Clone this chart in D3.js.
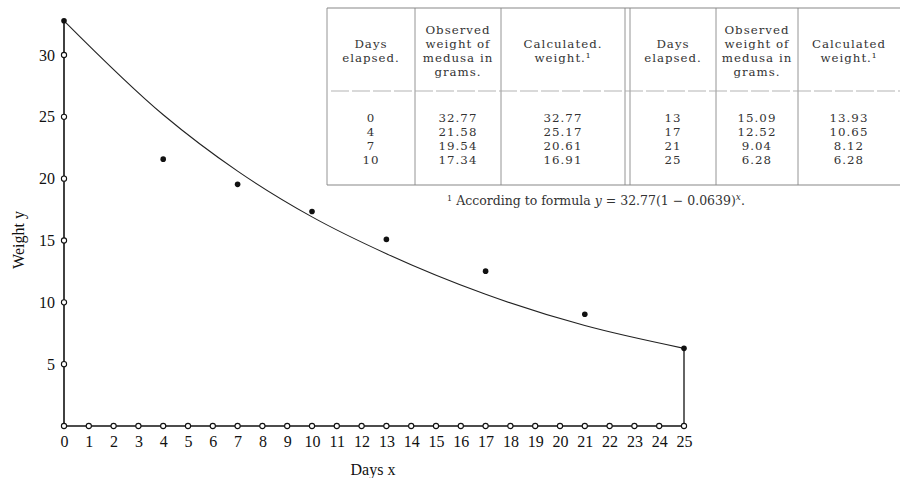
<!DOCTYPE html>
<html>
<head>
<meta charset="utf-8">
<script src="https://cdn.jsdelivr.net/npm/d3@7"></script>
<style>
  html, body { margin: 0; padding: 0; background: #fff; }
  svg { display: block; }
</style>
</head>
<body>
<svg id="chart" width="901" height="478"></svg>
<script>
// ---------------- data ----------------
const days = [0, 4, 7, 10, 13, 17, 21, 25];
const observed = [32.77, 21.58, 19.54, 17.34, 15.09, 12.52, 9.04, 6.28];
const calculated = [32.77, 25.17, 20.61, 16.91, 13.93, 10.65, 8.12, 6.28];
const xTicks = d3.range(0, 26);          // 0 .. 25
const yTicks = [5, 10, 15, 20, 25, 30];
const headerDays = ["Days", "elapsed."];
const headerObserved = ["Observed", "weight of", "medusa in", "grams."];
const headerCalc1 = ["Calculated.", "weight.¹"];
const headerCalc2 = ["Calculated", "weight.¹"];

// ---------------- layout ----------------
const svg = d3.select("#chart");
const X0 = 64, X1 = 684, Y0 = 426, Y30 = 55;
const x = d3.scaleLinear().domain([0, 25]).range([X0, X1]);
const y = d3.scaleLinear().domain([0, 30]).range([Y0, Y30]);
const serif = "'Liberation Serif', 'DejaVu Serif', serif";
const ink = "#111";

// axes lines
svg.append("line").attr("x1", x(0)).attr("x2", x(25)).attr("y1", y(0)).attr("y2", y(0))
  .attr("stroke", ink).attr("stroke-width", 1.6);
svg.append("line").attr("x1", x(0)).attr("x2", x(0)).attr("y1", y(0)).attr("y2", y(observed[0]))
  .attr("stroke", ink).attr("stroke-width", 1.6);
svg.append("line").attr("x1", x(25)).attr("x2", x(25)).attr("y1", y(0)).attr("y2", y(observed[observed.length - 1]))
  .attr("stroke", ink).attr("stroke-width", 1.3);

const xAxis = d3.axisBottom(x).tickValues(xTicks).tickSize(0).tickPadding(10).tickFormat(d3.format("d"));
const gx = svg.append("g").attr("transform", `translate(0,${y(0)})`).call(xAxis);
gx.select(".domain").remove();
gx.selectAll("text").attr("font-family", serif).attr("font-size", 16).attr("fill", ink);

const yAxis = d3.axisLeft(y).tickValues(yTicks).tickSize(0).tickPadding(9).tickFormat(d3.format("d"));
const gy = svg.append("g").attr("transform", `translate(${x(0)},0)`).call(yAxis);
gy.select(".domain").remove();
gy.selectAll("text").attr("font-family", serif).attr("font-size", 16).attr("fill", ink);

// curve of calculated weights
const line = d3.line().x((d, i) => x(days[i])).y(d => y(d)).curve(d3.curveMonotoneX);
svg.append("path").attr("d", line(calculated)).attr("fill", "none")
  .attr("stroke", "#222").attr("stroke-width", 1.1);

svg.selectAll("circle.xt").data(xTicks).enter().append("circle")
  .attr("class", "xt").attr("cx", d => x(d)).attr("cy", y(0)).attr("r", 2.6)
  .attr("fill", "#fff").attr("stroke", ink).attr("stroke-width", 1.1);
svg.selectAll("circle.yt").data(yTicks).enter().append("circle")
  .attr("class", "yt").attr("cx", x(0)).attr("cy", d => y(d)).attr("r", 2.6)
  .attr("fill", "#fff").attr("stroke", ink).attr("stroke-width", 1.1);

svg.selectAll("circle.obs").data(observed).enter().append("circle")
  .attr("class", "obs").attr("cx", (d, i) => x(days[i])).attr("cy", d => y(d)).attr("r", 2.8)
  .attr("fill", ink);

svg.append("text").attr("x", 373).attr("y", 475).attr("text-anchor", "middle")
  .attr("font-family", serif).attr("font-size", 16).attr("fill", ink).text("Days x");
svg.append("text").attr("transform", "translate(24,240) rotate(-90)").attr("text-anchor", "middle")
  .attr("font-family", serif).attr("font-size", 16).attr("fill", ink).text("Weight y");

// ---------------- table ----------------
const tfont = "'DejaVu Serif', serif";
const tsize = 11.8;
const tcol = "#333";
const T = { left: 327, right: 900, top: 8, sep: 91, bottom: 185 };
const colEdges = [327, 415, 501, 625, 630, 716, 798];
const centers = [371, 458, 563, 673, 757, 849];
const tbl = svg.append("g");
const gray = "#888";
tbl.append("line").attr("x1", T.left).attr("x2", T.right).attr("y1", T.top).attr("y2", T.top).attr("stroke", gray).attr("stroke-width", 1.2);
tbl.append("line").attr("x1", T.left).attr("x2", T.right).attr("y1", T.bottom).attr("y2", T.bottom).attr("stroke", gray).attr("stroke-width", 1.2);
colEdges.forEach(e => {
  tbl.append("line").attr("x1", e).attr("x2", e).attr("y1", T.top).attr("y2", T.bottom)
    .attr("stroke", gray).attr("stroke-width", 0.9);
});
tbl.append("line").attr("x1", T.left + 4).attr("x2", T.right).attr("y1", T.sep).attr("y2", T.sep)
  .attr("stroke", "#aaa").attr("stroke-width", 0.9).attr("stroke-dasharray", "18,3");

function headerLines(lines, cx, firstY) {
  lines.forEach((t, i) => {
    tbl.append("text").attr("x", cx).attr("y", firstY + i * 14).attr("text-anchor", "middle")
      .attr("font-family", tfont).attr("font-size", tsize).attr("letter-spacing", 1)
      .attr("fill", tcol).text(t);
  });
}
headerLines(headerDays, centers[0], 48);
headerLines(headerObserved, centers[1], 34);
headerLines(headerCalc1, centers[2], 48);
headerLines(headerDays, centers[3], 48);
headerLines(headerObserved, centers[4], 34);
headerLines(headerCalc2, centers[5], 48);

const half = 4;
const rowY = i => 122 + i * 14;
days.forEach((d, i) => {
  const side = i < half ? 0 : 3;
  const r = i % half;
  [String(d), observed[i].toFixed(2), calculated[i].toFixed(2)].forEach((t, k) => {
    tbl.append("text").attr("x", centers[side + k]).attr("y", rowY(r)).attr("text-anchor", "middle")
      .attr("font-family", tfont).attr("font-size", tsize).attr("letter-spacing", 1)
      .attr("fill", tcol).text(t);
  });
});

// footnote
const fn = svg.append("text").attr("x", 596).attr("y", 205).attr("text-anchor", "middle")
  .attr("font-family", tfont).attr("font-size", 12.5).attr("fill", tcol);
fn.append("tspan").attr("font-size", 8).attr("dy", -4).text("1");
fn.append("tspan").attr("dy", 4).text(" According to formula ");
fn.append("tspan").attr("font-style", "italic").text("y");
fn.append("tspan").text(" = 32.77(1 − 0.0639)");
fn.append("tspan").attr("font-style", "italic").attr("font-size", 9).attr("dy", -5).text("x");
fn.append("tspan").attr("dy", 5).text(".");
</script>
</body>
</html>
